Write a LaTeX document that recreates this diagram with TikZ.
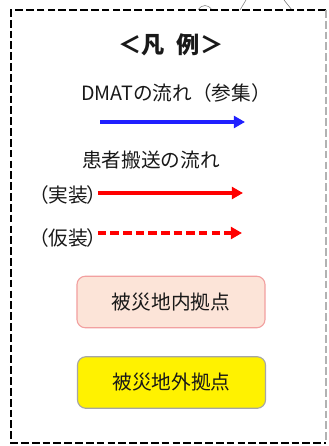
\documentclass[tikz,border=0pt]{standalone}
\usepackage{fontspec}
\setmainfont{Noto Sans CJK JP}
\newfontfamily\paltfont{Noto Sans CJK JP}[RawFeature=+palt]
\usetikzlibrary{arrows.meta}
\usetikzlibrary{positioning}
\definecolor{hanpink}{HTML}{FCE4D8}
\definecolor{hanpinkline}{HTML}{F2A0A0}
\definecolor{hanblue}{HTML}{2020FF}
\tikzstyle{label}=[font=\fontsize{14}{16}\selectfont, text=black!90, inner sep=0pt]
\tikzstyle{flow}=[line width=2.4pt, -{Triangle[length=8pt,width=8.5pt]}]
\tikzstyle{basebox}=[rounded corners=6pt, minimum width=4.7cm, minimum height=1.29cm, font=\fontsize{14}{16}\selectfont, text=black!90]

\begin{document}
\begin{tikzpicture}[x=0.025cm, y=-0.025cm]

  \useasboundingbox (0,0) rectangle (328,446);
  \fill[white] (0,0) rectangle (328,446);

% pieces of the shapes above the frame
  \draw[gray, thin] (198,10) .. controls (202,4) and (208,4) .. (212,10);
  \draw[gray, thin] (240,10) -- (246,0);
  \draw[gray, thin] (284,0) -- (292,10);

% frame
  \draw[line width=1.8pt, dash pattern=on 5.5pt off 2.2pt] (326,10) -- (11,10) -- (11,443) -- (326,443);
  \draw[black!30, line width=0.8pt, dash pattern=on 5.5pt off 2.2pt] (326,10) -- (326,443);

  \node[label, font=\fontsize{16.5}{18}\selectfont\bfseries] (title) at (171,45) {＜凡\,\,\,例＞};
  \node[label] (dmat) at (176,93) {DMATの流れ（参集）};
  \node[label] (kanja) at (151,160) {患者搬送の流れ};
  \node[label, font=\fontsize{14}{16}\selectfont\paltfont] (jissou) at (68,195) {（実装）};
  \node[label, font=\fontsize{14}{16}\selectfont\paltfont] (kasou) at (68,238) {（仮装）};

  \coordinate (dmatA) at (100,122);
  \coordinate (dmatB) at (245,122);
  \coordinate (jissouB) at (243,193);
  \coordinate (kasouB) at (242,233);

  \draw[flow, hanblue] (dmatA) -- (dmatB);
  \draw[flow, red] (jissou.east |- jissouB) -- (jissouB);
  \draw[flow, red, dash pattern=on 6pt off 3pt] (kasou.east |- kasouB) -- (kasouB);

  \node[basebox, fill=hanpink, draw=hanpinkline, line width=0.8pt] (inner) at (171,302) {被災地内拠点};
  \node[basebox, fill=yellow, draw=black!35, line width=0.8pt] (outer) at (171.5,382.5) {被災地外拠点};

\end{tikzpicture}
\end{document}
